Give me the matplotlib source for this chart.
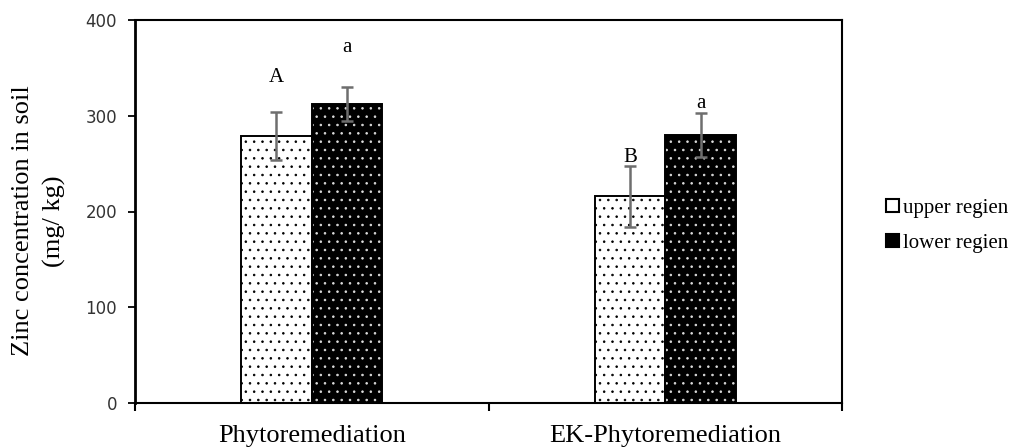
import matplotlib
matplotlib.use("Agg")
import matplotlib.pyplot as plt
from matplotlib.patches import Patch
import numpy as np

# values
treatments = ["Phytoremediation", "EK-Phytoremediation"]
series_names = ["upper regien", "lower regien"]
upper_means = [279, 216]
upper_err = [25, 32]
lower_means = [312, 280]
lower_err = [18, 23]
upper_letters = ["A", "B"]
lower_letters = ["a", "a"]
upper_letter_y = [335, 252]
lower_letter_y = [367, 308]
yticks = [0, 100, 200, 300, 400]

serif = "Liberation Serif"
plt.rcParams["hatch.linewidth"] = 0.6

fig = plt.figure(figsize=(10.13, 4.47), dpi=100)
ax = fig.add_axes([135 / 1013, 44 / 447, (842 - 135) / 1013, (403 - 20) / 447])

x = np.arange(len(treatments)) + 0.5
w = 0.2

# upper region: white bars with black dots
ax.bar(x - w / 2, upper_means, w, color="white", edgecolor="black", hatch="..",
       linewidth=0, zorder=2)
ax.bar(x - w / 2, upper_means, w, fill=False, edgecolor="black", linewidth=1.4, zorder=3)
# lower region: black bars with white dots
ax.bar(x + w / 2, lower_means, w, color="black", edgecolor="#dddddd", hatch="..",
       linewidth=0, zorder=2)
ax.bar(x + w / 2, lower_means, w, fill=False, edgecolor="black", linewidth=1.4, zorder=3)

ax.errorbar(x - w / 2, upper_means, yerr=upper_err, fmt="none", ecolor="#6e6e6e",
            elinewidth=1.8, capsize=4.5, capthick=1.8, zorder=4)
ax.errorbar(x + w / 2, lower_means, yerr=lower_err, fmt="none", ecolor="#6e6e6e",
            elinewidth=1.8, capsize=4.5, capthick=1.8, zorder=4)

# significance letters
for i in range(len(treatments)):
    ax.text(x[i] - w / 2, upper_letter_y[i], upper_letters[i],
            ha="center", va="baseline", fontsize=15, family=serif)
    ax.text(x[i] + w / 2, lower_letter_y[i], lower_letters[i],
            ha="center", va="baseline", fontsize=15, family=serif)

ax.set_xlim(0, 2)
ax.set_ylim(0, 400)
ax.set_yticks(yticks)
ax.tick_params(axis="y", direction="out", length=5, width=1.3, pad=8, labelsize=12,
               labelcolor="#333333")
ax.set_xticks([0, 1, 2])
ax.set_xticklabels([])
ax.set_xticks(x, minor=True)
ax.set_xticklabels(treatments, minor=True, fontsize=19, family=serif)
ax.tick_params(axis="x", which="major", direction="out", length=6, width=1.5)
ax.tick_params(axis="x", which="minor", length=0, pad=16)
for s in ax.spines.values():
    s.set_linewidth(1.5)
ax.spines["left"].set_linewidth(2)

fig.text(39 / 1013, 1 - 221 / 447, "Zinc concentration in soil\n(mg/ kg)", rotation=90,
         ha="center", va="center", multialignment="center", fontsize=19, family=serif,
         linespacing=1.45)

handles = [Patch(facecolor="white", edgecolor="black", linewidth=1.5),
           Patch(facecolor="black", edgecolor="black", linewidth=1.5)]
fig.legend(handles, series_names, loc="center left",
           bbox_to_anchor=(878 / 1013, 1 - 226 / 447), frameon=False,
           prop={"family": serif, "size": 15}, handlelength=0.6, handleheight=0.6,
           handletextpad=0.2, labelspacing=0.75, borderaxespad=0)

fig.savefig("out.png", dpi=100)
